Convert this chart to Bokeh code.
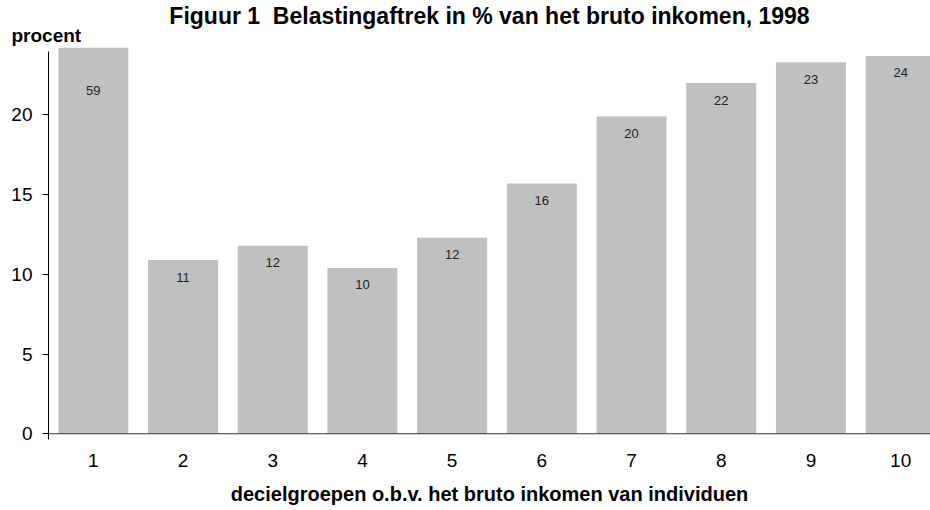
from bokeh.plotting import figure
from bokeh.models import Range1d, FixedTicker, Span, Title, ColumnDataSource
from bokeh.embed import file_html
from bokeh.resources import INLINE
from bokeh.core.properties import value
import numpy as np

# ---- data ----
deciles = [1, 2, 3, 4, 5, 6, 7, 8, 9, 10]
percent = [59.0, 10.9, 11.8, 10.4, 12.3, 15.7, 19.9, 22.0, 23.3, 23.7]
bar_labels = ["59", "11", "12", "10", "12", "16", "20", "22", "23", "24"]
y_ticks = [0, 5, 10, 15, 20]
x_tick_labels = {d: str(d) for d in deciles}
title_text = "Figuur 1\u00a0 Belastingaftrek in % van het bruto inkomen, 1998"
ylabel_text = "procent"
xlabel_text = "decielgroepen o.b.v. het bruto inkomen van individuen"

# ---- layout / style ----
FONT = "Liberation Sans"
W, H = 930, 510
LEFT, TOP, BOTTOM = 48, 47, 71
PX_X = 89.7
PX_Y = 15.94
frame_w = W - LEFT
frame_h = H - TOP - BOTTOM
x0 = 0.5
x1 = x0 + frame_w / PX_X
y0 = -0.36
y1 = y0 + frame_h / PX_Y
CLIPPED_LABEL_Y = 22.6
BAR_COLOR = "#C0C0C0"

p = figure(width=W, height=H, x_range=Range1d(x0, x1), y_range=Range1d(y0, y1),
           output_backend="svg", toolbar_location=None,
           min_border_left=LEFT, min_border_right=0, min_border_top=TOP,
           min_border_bottom=BOTTOM)
p.outline_line_color = None
p.grid.visible = False
p.background_fill_color = "white"
p.border_fill_color = "white"

vals = np.array(percent)
src = ColumnDataSource(dict(
    x=deciles, top=percent, lab=bar_labels,
    ly=list(np.where(vals > y1, CLIPPED_LABEL_Y, vals)),
))
p.vbar(x="x", top="top", width=0.78, source=src, fill_color=BAR_COLOR, line_color=None)
p.text(x="x", y="ly", text="lab", source=src, text_align="center", text_baseline="middle",
       y_offset=17, text_font=value(FONT), text_font_size="13px", text_color="#222222")

p.add_layout(Span(location=0, dimension="width", line_color="#333333", line_width=1))

# y axis
ya = p.yaxis[0]
ya.ticker = FixedTicker(ticks=y_ticks)
ya.bounds = (y0, 24)
ya.axis_line_color = "black"
ya.major_tick_out = 6
ya.major_tick_in = 0
ya.minor_tick_line_color = None
ya.major_tick_line_color = "black"
ya.major_label_standoff = 10
ya.major_label_text_font = FONT
ya.major_label_text_font_size = "19px"
ya.major_label_text_color = "black"

# x axis
xa = p.xaxis[0]
xa.ticker = FixedTicker(ticks=deciles)
xa.major_label_overrides = x_tick_labels
xa.axis_line_color = None
xa.major_tick_line_color = None
xa.minor_tick_line_color = None
xa.major_tick_out = 0
xa.major_tick_in = 0
xa.major_label_standoff = 14
xa.major_label_text_font = FONT
xa.major_label_text_font_size = "19px"
xa.major_label_text_color = "black"
xa.axis_label = xlabel_text
xa.axis_label_standoff = 13
xa.axis_label_text_font = FONT
xa.axis_label_text_font_size = "20px"
xa.axis_label_text_font_style = "bold"
xa.axis_label_text_color = "black"

# titles
p.add_layout(Title(text=ylabel_text, align="left", offset=-37, standoff=3,
                   text_font=FONT, text_font_size="19px", text_font_style="bold",
                   text_color="black"), "above")
p.title.text = title_text
p.title.align = "center"
p.title.text_font = FONT
p.title.text_font_size = "23px"
p.title.text_font_style = "bold"
p.title.text_color = "black"
p.title.standoff = -15

open("out.html", "w").write(file_html(p, INLINE))
